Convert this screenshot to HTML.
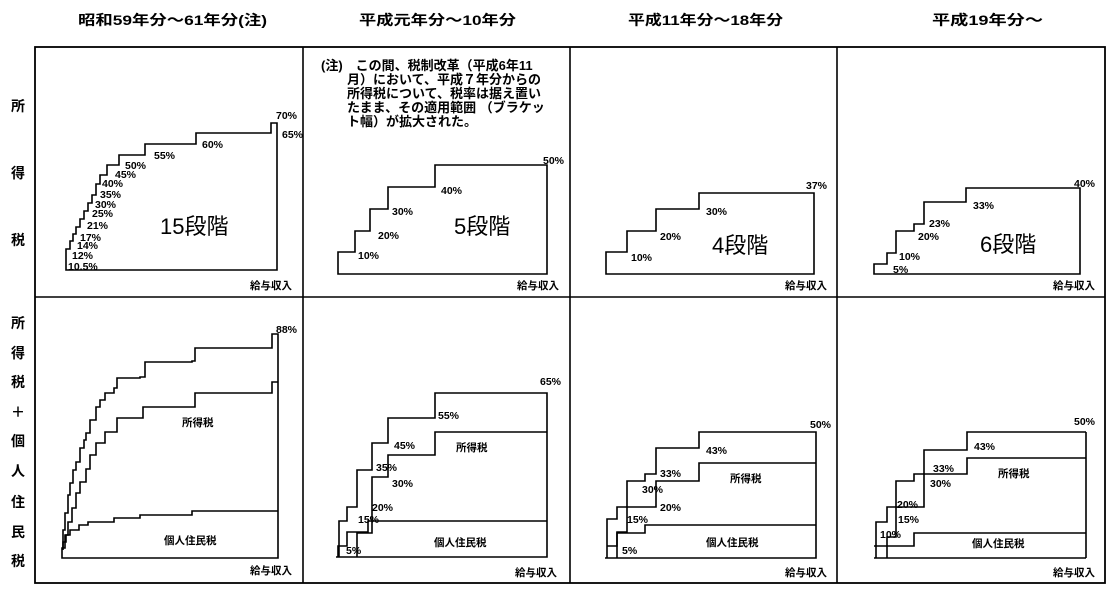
<!DOCTYPE html>
<html><head><meta charset="utf-8"><style>
html,body{margin:0;padding:0;background:#fff;}
svg{display:block;}
text{font-family:"Liberation Sans","Noto Sans CJK JP",sans-serif;font-weight:bold;fill:#000;}
.p{font-size:10.5px;}
.h{font-size:14px;}
.r{font-size:14px;}
.big{font-size:22px;font-weight:normal;}
.n{font-size:10.5px;}
.note{font-size:13px;}
path,line,rect{fill:none;stroke:#000;stroke-width:1.6;}
</style></head><body>
<svg width="1111" height="590" viewBox="0 0 1111 590" xmlns="http://www.w3.org/2000/svg">
<text class="h" x="78" y="25" textLength="189" lengthAdjust="spacingAndGlyphs">昭和59年分～61年分(注)</text>
<text class="h" x="359" y="25" textLength="157" lengthAdjust="spacingAndGlyphs">平成元年分～10年分</text>
<text class="h" x="628" y="25" textLength="155" lengthAdjust="spacingAndGlyphs">平成11年分～18年分</text>
<text class="h" x="932" y="25" textLength="111" lengthAdjust="spacingAndGlyphs">平成19年分～</text>
<rect x="35" y="47" width="1070" height="536" style="stroke-width:1.8"/>
<line x1="35" y1="297" x2="1105" y2="297"/>
<line x1="303" y1="47" x2="303" y2="583"/>
<line x1="570" y1="47" x2="570" y2="583"/>
<line x1="837" y1="47" x2="837" y2="583"/>
<g class="r" text-anchor="middle">
<text x="18" y="111" class="r">所</text><text x="18" y="178" class="r">得</text><text x="18" y="245" class="r">税</text>
<text x="18" y="328" class="r">所</text><text x="18" y="358" class="r">得</text><text x="18" y="387" class="r">税</text><text x="18" y="417" class="r">＋</text><text x="18" y="446" class="r">個</text><text x="18" y="476" class="r">人</text><text x="18" y="507" class="r">住</text><text x="18" y="537" class="r">民</text><text x="18" y="566" class="r">税</text>
</g>

<path d="M66,270 V249 H70 V241 H73 V234 H76 V227 H80 V219 H84 V211 H88 V203 H92 V195 H96 V184 H100 V175 H107 V165 H119 V155 H145 V144 H196 V133 H271 V123 H277 V270 Z"/>
<text class="p" x="276" y="119">70%</text><text class="p" x="282" y="138">65%</text>
<text class="p" x="202" y="148">60%</text><text class="p" x="154" y="159">55%</text>
<text class="p" x="125" y="169">50%</text><text class="p" x="115" y="178">45%</text>
<text class="p" x="102" y="187">40%</text><text class="p" x="100" y="198">35%</text>
<text class="p" x="95" y="208">30%</text><text class="p" x="92" y="217">25%</text>
<text class="p" x="87" y="229">21%</text><text class="p" x="80" y="241">17%</text>
<text class="p" x="77" y="249">14%</text><text class="p" x="72" y="259">12%</text>
<text class="p" x="68" y="270">10.5%</text>
<text class="big" x="160" y="234">15段階</text>
<text class="n" x="250" y="289">給与収入</text>

<g class="note">
<text x="321" y="70">(注)　この間、税制改革（平成6年11</text>
<text x="347" y="84">月）において、平成７年分からの</text>
<text x="347" y="98">所得税について、税率は据え置い</text>
<text x="347" y="112">たまま、その適用範囲 （ブラケッ</text>
<text x="347" y="126">ト幅）が拡大された。</text>
</g>
<path d="M338,274 V252 H355 V231 H370 V209 H388 V187 H435 V165 H547 V274 Z"/>
<text class="p" x="543" y="164">50%</text><text class="p" x="441" y="194">40%</text>
<text class="p" x="392" y="215">30%</text><text class="p" x="378" y="239">20%</text>
<text class="p" x="358" y="259">10%</text>
<text class="big" x="454" y="234">5段階</text>
<text class="n" x="517" y="289">給与収入</text>

<path d="M606,274 V252 H627 V231 H656 V209 H699 V193 H814 V274 Z"/>
<text class="p" x="806" y="189">37%</text><text class="p" x="706" y="215">30%</text>
<text class="p" x="660" y="240">20%</text><text class="p" x="631" y="261">10%</text>
<text class="big" x="712" y="253">4段階</text>
<text class="n" x="785" y="289">給与収入</text>

<path d="M874,274 V264 H887 V253 H896 V231 H914 V224 H924 V202 H966 V188 H1080 V274 Z"/>
<text class="p" x="1074" y="187">40%</text><text class="p" x="973" y="209">33%</text>
<text class="p" x="929" y="227">23%</text><text class="p" x="918" y="240">20%</text>
<text class="p" x="899" y="260">10%</text><text class="p" x="893" y="273">5%</text>
<text class="big" x="980" y="252">6段階</text>
<text class="n" x="1053" y="289">給与収入</text>

<path d="M62,558 H278 V334 H272 V348 H195 V361 H192 V362 H145 V377 H140 V378 H117 V388 H114 V393 H105 V400 H100 V407 H96 V420 H90 V433 H86 V440 H84 V448 H80 V462 H76 V470 H73 V483 H70 V495 H68 V513 H65 V530 H63 V548 H62 Z"/>
<path d="M278,382 H272 V393 H195 V407 H143 V418 H117 V432 H105 V443 H96 V455 H90 V469 H86 V482 H80 V493 H76 V508 H72 V522 H68 V535 H65 V548 H63"/>
<path d="M278,511 H192 V515 H140 V518 H114 V522 H88 V525 H79 V530 H70 V535 H66 V542 H63 V550"/>
<text class="p" x="276" y="333">88%</text>
<text class="n" x="182" y="426">所得税</text>
<text class="n" x="164" y="544">個人住民税</text>
<text class="n" x="250" y="574">給与収入</text>

<path d="M336,557 H547 V393 H435 V418 H388 V443 H372 V470 H357 V507 H347 V521 H339 V557"/>
<path d="M547,432 H435 V455 H388 V477 H372 V533 H357 V557"/>
<path d="M547,521 H368 V532 H347 V546 H338 V557"/>
<text class="p" x="540" y="385">65%</text><text class="p" x="438" y="419">55%</text>
<text class="p" x="394" y="449">45%</text><text class="p" x="376" y="471">35%</text>
<text class="p" x="392" y="487">30%</text><text class="p" x="372" y="511">20%</text>
<text class="p" x="358" y="523">15%</text><text class="p" x="346" y="554">5%</text>
<text class="n" x="456" y="451">所得税</text>
<text class="n" x="434" y="546">個人住民税</text>
<text class="n" x="515" y="576">給与収入</text>

<path d="M605,558 H816 V432 H699 V448 H656 V474 H645 V481 H627 V507 H617 V519 H607 V558"/>
<path d="M816,463 H699 V481 H656 V507 H627 V532 H617 V558"/>
<path d="M816,525 H645 V533 H617 V546 H607"/>
<text class="p" x="810" y="428">50%</text><text class="p" x="706" y="454">43%</text>
<text class="p" x="660" y="477">33%</text><text class="p" x="642" y="493">30%</text>
<text class="p" x="660" y="511">20%</text><text class="p" x="627" y="523">15%</text>
<text class="p" x="622" y="554">5%</text>
<text class="n" x="730" y="482">所得税</text>
<text class="n" x="706" y="546">個人住民税</text>
<text class="n" x="785" y="576">給与収入</text>

<path d="M874,558 H1086 M1086,432 V558 M1086,432 H967 V450 H924 V474 H914 V481 H896 V507 H887 V522 H876 V558"/>
<path d="M1086,458 H967 V474 H924 V507 H896 V537 H887 V558"/>
<path d="M1086,533 H914 V546 H874"/>
<text class="p" x="1074" y="425">50%</text><text class="p" x="974" y="450">43%</text>
<text class="p" x="933" y="472">33%</text><text class="p" x="930" y="487">30%</text>
<text class="p" x="897" y="508">20%</text><text class="p" x="898" y="523">15%</text>
<text class="p" x="880" y="538">10%</text>
<text class="n" x="998" y="477">所得税</text>
<text class="n" x="972" y="547">個人住民税</text>
<text class="n" x="1053" y="576">給与収入</text>
</svg>
</body></html>
